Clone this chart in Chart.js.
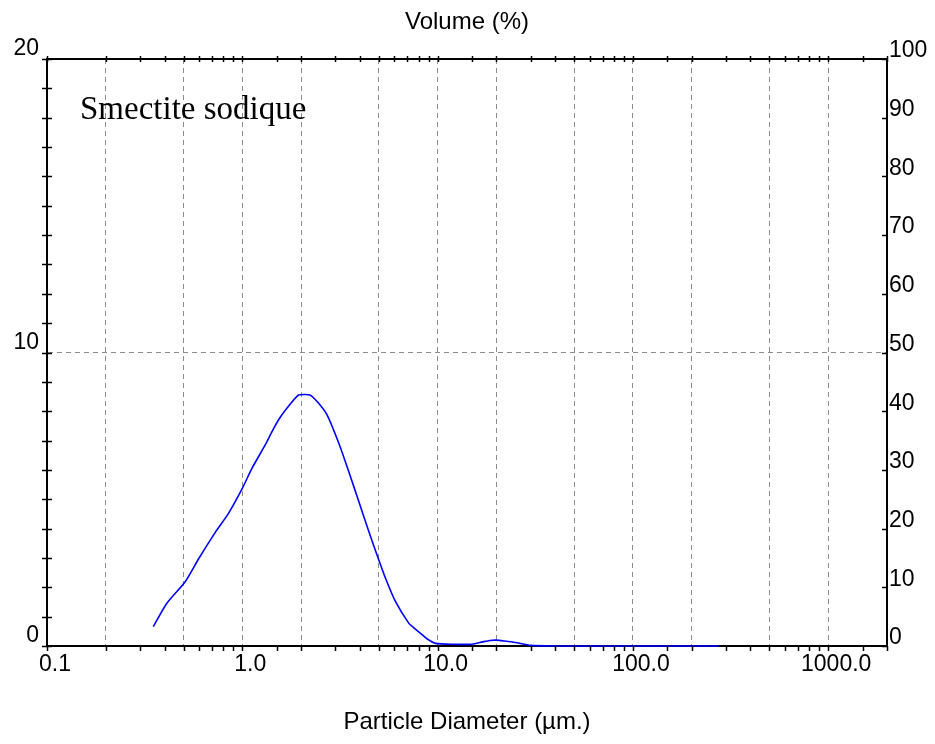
<!DOCTYPE html>
<html>
<head>
<meta charset="utf-8">
<title>Smectite sodique</title>
<script src="https://cdn.jsdelivr.net/npm/chart.js@4.4.1/dist/chart.umd.min.js"></script>
<style>
  html, body { margin: 0; padding: 0; background: #fff; overflow: hidden; }
  #wrap { width: 935px; height: 744px; position: relative; }
</style>
</head>
<body>
<div id="wrap"><canvas id="psd"></canvas></div>
<script>
// particle size distribution, volume % per size class
var diameters = [0.35, 0.41, 0.51, 0.6, 0.73, 0.85, 1.0, 1.12, 1.31, 1.45, 1.57, 1.8, 1.94, 2.1, 2.23,
                 2.46, 2.72, 3.12, 3.51, 3.95, 4.45, 5.0, 5.41, 6.09, 7.13, 7.56, 8.35, 8.85, 9.77,
                 12, 15, 17, 18.5, 20, 22, 25, 30, 40, 60, 100, 150, 200, 275];
var volumes = [0.66, 1.45, 2.19, 2.99, 3.89, 4.52, 5.37, 6.05, 6.85, 7.42, 7.81, 8.32, 8.55, 8.57, 8.55,
               8.27, 7.87, 6.91, 5.94, 4.92, 3.89, 2.93, 2.31, 1.51, 0.77, 0.62, 0.38, 0.24, 0.09,
               0.06, 0.06, 0.14, 0.19, 0.2, 0.17, 0.12, 0.02, 0, 0, 0, 0, 0, 0];

var xLabelValues = [0.1, 1, 10, 100, 1000];
var xGridValues = [0.2, 0.5, 1, 2, 5, 10, 20, 50, 100, 200, 500, 1000];
var yLabelValues = [0, 10, 20];
var yGridValues = [10];

var tickFont = { family: 'Liberation Sans, Arial, sans-serif', size: 23 };
var titleFont = { family: 'Liberation Sans, Arial, sans-serif', size: 24 };
var gridGray = '#8c8c8c';

function near(list, v) {
    return list.some(function (w) { return Math.abs(w - v) < w * 1e-6 + 1e-9; });
}

// small tick marks on all four sides of the frame
var tickMarks = {
    id: 'tickMarks',
    afterDatasetsDraw: function (chart) {
        var ctx = chart.ctx, a = chart.chartArea, s = chart.scales;
        ctx.save();
        ctx.strokeStyle = '#000';
        ctx.lineWidth = 1.5;
        ctx.beginPath();
        s.x.ticks.forEach(function (t) {
            var px = Math.round(s.x.getPixelForValue(t.value)) + 0.5;
            ctx.moveTo(px, a.bottom); ctx.lineTo(px, a.bottom + 5);
        });
        s.x2.ticks.forEach(function (t) {
            var px = Math.round(s.x2.getPixelForValue(t.value)) + 0.5;
            ctx.moveTo(px, a.top - 3); ctx.lineTo(px, a.top + 3);
        });
        s.y.ticks.forEach(function (t) {
            var py = Math.round(s.y.getPixelForValue(t.value)) + 0.5;
            ctx.moveTo(a.left - 5, py); ctx.lineTo(a.left + 5, py);
        });
        s.y2.ticks.forEach(function (t) {
            var py = Math.round(s.y2.getPixelForValue(t.value)) + 0.5;
            ctx.moveTo(a.right - 5, py); ctx.lineTo(a.right, py);
        });
        ctx.stroke();
        ctx.restore();
    }
};

// sample name in the upper left corner of the plot
var sampleLabel = {
    id: 'sampleLabel',
    afterDraw: function (chart) {
        var ctx = chart.ctx, a = chart.chartArea;
        ctx.save();
        ctx.font = '33px "Liberation Serif", "Times New Roman", serif';
        ctx.fillStyle = '#000';
        ctx.textBaseline = 'middle';
        ctx.fillText('Smectite sodique', a.left + 33, a.top + 51);
        ctx.restore();
    }
};

var points = diameters.map(function (d, i) { return { x: d, y: volumes[i] }; });

new Chart(document.getElementById('psd').getContext('2d'), {
    type: 'line',
    data: {
        datasets: [{
            label: 'Volume',
            data: points,
            borderColor: '#0000ff',
            borderWidth: 1.6,
            pointRadius: 0,
            fill: false,
            tension: 0.2,
            clip: 6
        }]
    },
    plugins: [tickMarks, sampleLabel],
    options: {
        responsive: true,
        maintainAspectRatio: false,
        animation: false,
        layout: { padding: 0 },
        plugins: {
            legend: { display: false },
            tooltip: { enabled: false }
        },
        scales: {
            x: {
                type: 'logarithmic',
                position: 'bottom',
                min: 0.1,
                max: 2000,
                afterFit: function (s) { s.height = 98; },
                grid: {
                    drawTicks: false,
                    lineWidth: 1,
                    color: function (c) { return c.tick && near(xGridValues, c.tick.value) ? gridGray : 'rgba(0,0,0,0)'; }
                },
                border: { display: true, color: '#000', width: 2, dash: [5, 4] },
                ticks: {
                    autoSkip: false,
                    maxRotation: 0,
                    padding: 5,
                    labelOffset: 8,
                    color: '#000',
                    font: tickFont,
                    callback: function (v) { return near(xLabelValues, v) ? v.toFixed(1) : ''; }
                },
                title: {
                    display: true,
                    text: 'Particle Diameter (µm.)',
                    color: '#000',
                    font: titleFont,
                    padding: { top: 0, bottom: 7 }
                }
            },
            x2: {
                type: 'logarithmic',
                position: 'top',
                display: true,
                min: 0.1,
                max: 2000,
                afterFit: function (s) { s.height = 59; },
                grid: { drawTicks: false, drawOnChartArea: false },
                border: { display: true, color: '#000', width: 2 },
                ticks: { autoSkip: false, display: false, callback: function () { return ''; } },
                title: {
                    display: true,
                    text: 'Volume (%)',
                    color: '#000',
                    font: titleFont,
                    padding: { top: 8, bottom: 0 }
                }
            },
            y: {
                position: 'left',
                min: 0,
                max: 20,
                afterFit: function (s) { s.width = 47; },
                grid: {
                    drawTicks: false,
                    lineWidth: 1,
                    color: function (c) { return c.tick && near(yGridValues, c.tick.value) ? gridGray : 'rgba(0,0,0,0)'; }
                },
                border: { display: true, color: '#000', width: 2, dash: [5, 4] },
                ticks: {
                    stepSize: 1,
                    autoSkip: false,
                    padding: 8,
                    labelOffset: -10,
                    color: '#000',
                    font: tickFont,
                    callback: function (v) { return yLabelValues.indexOf(v) >= 0 ? String(v) : ''; }
                }
            },
            y2: {
                position: 'right',
                display: true,
                min: 0,
                max: 100,
                afterFit: function (s) { s.width = 48; },
                grid: { drawTicks: false, drawOnChartArea: false },
                border: { display: true, color: '#000', width: 2 },
                ticks: {
                    stepSize: 10,
                    autoSkip: false,
                    padding: 2,
                    labelOffset: -8,
                    color: '#000',
                    font: tickFont
                }
            }
        }
    }
});
</script>
</body>
</html>
